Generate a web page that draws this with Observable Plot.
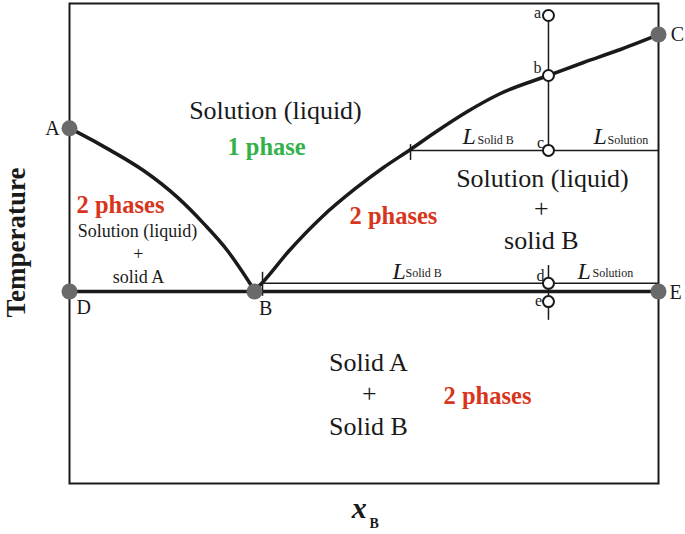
<!DOCTYPE html>
<html>
<head>
<meta charset="utf-8">
<script src="https://cdn.jsdelivr.net/npm/d3@7"></script>
<script src="https://cdn.jsdelivr.net/npm/@observablehq/plot@0.6"></script>
<style>
  html, body { margin: 0; padding: 0; background: #fff; }
  svg text { font-family: "Liberation Serif", "Times New Roman", "DejaVu Serif", serif; }
</style>
</head>
<body>
<div id="chart"></div>
<script>
// ---- Data (x = mole fraction of B, T = temperature, arbitrary units 0–100) ----
const liquidusA_x = [0, 0.013, 0.0696, 0.1256, 0.1834, 0.2275, 0.2683, 0.2954, 0.3141];
const liquidusA_T = [74.0, 73.2, 69.4, 65.2, 59.6, 54.2, 48.5, 43.75, 40.2];

const liquidusB_x = [0.3141, 0.3277, 0.3718, 0.4295, 0.4856, 0.5331, 0.5789, 0.618, 0.6757, 0.7317, 0.8132, 0.8727, 0.9304, 1];
const liquidusB_T = [40.2, 41.88, 48.33, 55.63, 61.46, 65.83, 69.58, 72.92, 77.5, 81.25, 85.0, 87.71, 90.21, 93.54];

const eutecticT = 40;

const fixedNames = ["A", "C", "D", "B", "E"];
const fixedX = [0, 1, 0, 0.3141, 1];
const fixedT = [74.0, 93.54, 40, 40, 40];

const pathX = 0.8132;
const stateNames = ["a", "b", "c", "d", "e"];
const stateT = [97.5, 85.0, 69.4, 41.7, 37.9];

const tieUpperX = [0.579, 1];
const tieUpperT = 69.4;
const tieLowerX = [0.3277, 1];
const tieLowerT = 41.7;

// label anchors (data coordinates)
const fixedLabelX = [-0.029, 1.032, 0.024, 0.333, 1.029];
const fixedLabelT = [74.0, 93.6, 36.6, 36.4, 39.8];
const stateLabelX = [0.7946, 0.7946, 0.7997, 0.7997, 0.7963];
const stateLabelT = [98.1, 86.5, 71.0, 43.3, 38.1];

const regionText = ["Solution (liquid)", "Solution (liquid)", "+", "solid B", "Solid A", "+", "Solid B"];
const regionX = [0.3497, 0.803, 0.801, 0.801, 0.5076, 0.509, 0.5076];
const regionT = [77.7, 63.5, 57.3, 50.6, 25.2, 18.75, 11.9];

const smallText = ["Solution (liquid)", "+", "solid A"];
const smallX = [0.1154, 0.117, 0.117];
const smallT = [52.5, 47.7, 42.9];

const phaseText = ["1 phase", "2 phases", "2 phases", "2 phases"];
const phaseX = [0.3345, 0.0866, 0.550, 0.7097];
const phaseT = [70.0, 57.9, 55.6, 18.1];
const phaseColor = ["#35b14a", "#d7361d", "#d7361d", "#d7361d"];

const leverMain = ["L", "L", "L", "L"];
const leverSub = ["Solid B", "Solution", "Solid B", "Solution"];
const leverX = [0.6672, 0.8897, 0.5484, 0.8625];
const leverSubX = [0.6927, 0.9134, 0.5705, 0.888];
const leverT = [70.83, 70.83, 42.7, 42.7];
const leverSubT = [70.83, 70.83, 43.1, 43.1];

// ---- Build tables ----
const curveA = liquidusA_x.map((x, i) => ({x, T: liquidusA_T[i]}));
const curveB = liquidusB_x.map((x, i) => ({x, T: liquidusB_T[i]}));
const fixed = fixedNames.map((n, i) => ({n, x: fixedX[i], T: fixedT[i], lx: fixedLabelX[i], lT: fixedLabelT[i]}));
const states = stateNames.map((n, i) => ({n, x: pathX, T: stateT[i], lx: stateLabelX[i], lT: stateLabelT[i]}));
const regions = regionText.map((t, i) => ({t, x: regionX[i], T: regionT[i]}));
const smalls = smallText.map((t, i) => ({t, x: smallX[i], T: smallT[i]}));
const phases = phaseText.map((t, i) => ({t, x: phaseX[i], T: phaseT[i], c: phaseColor[i]}));
const levers = leverMain.map((t, i) => ({t, s: leverSub[i], x: leverX[i], sx: leverSubX[i], T: leverT[i], sT: leverSubT[i]}));

const ink = "#1a1a1a";
const font = "'Liberation Serif', 'Times New Roman', 'DejaVu Serif', serif";
const T = (opts) => Object.assign({fontFamily: font, fill: ink}, opts);

const chart = Plot.plot({
  width: 685,
  height: 534,
  marginLeft: 69,
  marginRight: 27,
  marginTop: 3,
  marginBottom: 51,
  x: {domain: [0, 1], axis: null},
  y: {domain: [0, 100], axis: null},
  style: {fontFamily: font, background: "white", color: ink},
  marks: [
    Plot.frame({stroke: ink, strokeWidth: 2}),
    // tie lines
    Plot.ruleY([tieUpperT], {x1: tieUpperX[0], x2: tieUpperX[1], stroke: ink, strokeWidth: 1.5}),
    Plot.ruleY([tieLowerT], {x1: tieLowerX[0], x2: tieLowerX[1], stroke: ink, strokeWidth: 1.5}),
    // tick marks at tie-line ends
    Plot.ruleX([tieUpperX[0]], {y1: 67.3, y2: 70.6, stroke: ink, strokeWidth: 1.5}),
    Plot.ruleX([tieLowerX[0]], {y1: 39.0, y2: 44.0, stroke: ink, strokeWidth: 1.5}),
    // cooling path
    Plot.ruleX([pathX], {y1: stateT[0], y2: stateT[2], stroke: ink, strokeWidth: 1.5}),
    Plot.ruleX([pathX], {y1: 45.4, y2: 34.0, stroke: ink, strokeWidth: 1.5}),
    // eutectic line
    Plot.ruleY([eutecticT], {x1: 0, x2: 1, stroke: ink, strokeWidth: 3.5}),
    // liquidus curves
    Plot.line(curveA, {x: "x", y: "T", curve: "monotone-x", stroke: ink, strokeWidth: 3.5}),
    Plot.line(curveB, {x: "x", y: "T", curve: "monotone-x", stroke: ink, strokeWidth: 3.5}),
    // points
    Plot.dot(fixed, {x: "x", y: "T", r: 8, fill: "#6a6a6a", stroke: "none"}),
    Plot.dot(states, {x: "x", y: "T", r: 5.5, fill: "white", stroke: ink, strokeWidth: 2}),
    // point labels
    Plot.text(fixed, T({x: "lx", y: "lT", text: "n", fontSize: 20})),
    Plot.text(states, T({x: "lx", y: "lT", text: "n", fontSize: 16})),
    // region labels
    Plot.text(regions, T({x: "x", y: "T", text: "t", fontSize: 26})),
    Plot.text(smalls, T({x: "x", y: "T", text: "t", fontSize: 18})),
    Plot.text(phases, T({x: "x", y: "T", text: "t", fontSize: 24.5, fontWeight: "bold", fill: "c"})),
    // lever-rule labels
    Plot.text(levers, T({x: "x", y: "T", text: "t", fontSize: 24, fontStyle: "italic", textAnchor: "start", lineAnchor: "bottom"})),
    Plot.text(levers, T({x: "sx", y: "sT", text: "s", fontSize: 12, textAnchor: "start", lineAnchor: "bottom"})),
    // axis titles
    Plot.text(["Temperature"], T({x: -0.09, y: 50.2, rotate: -90, fontSize: 27, fontWeight: "bold"})),
    Plot.text(["x"], T({x: 0.492, y: -7.1, fontSize: 30, fontWeight: "bold", fontStyle: "italic", lineAnchor: "bottom"})),
    Plot.text(["B"], T({x: 0.5093, y: -9.2, fontSize: 14, fontWeight: "bold", textAnchor: "start", lineAnchor: "bottom"}))
  ]
});

document.getElementById("chart").appendChild(chart);
</script>
</body>
</html>
